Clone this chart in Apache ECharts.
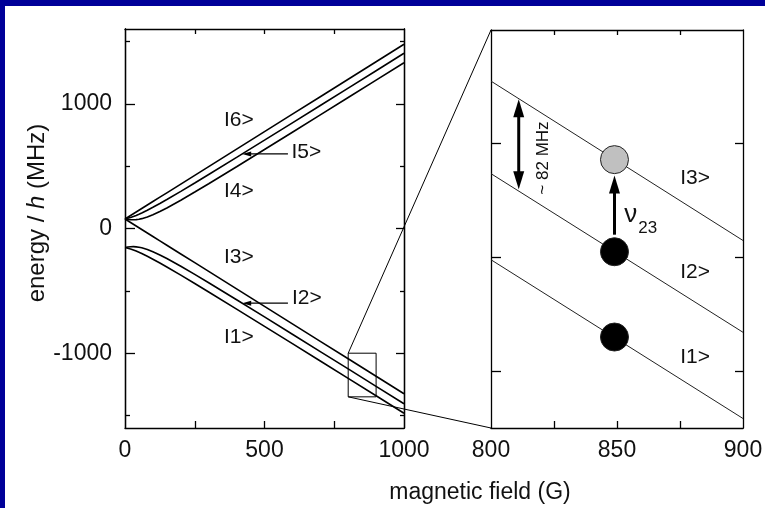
<!DOCTYPE html>
<html><head><meta charset="utf-8">
<script src="https://cdn.jsdelivr.net/npm/echarts@6/dist/echarts.min.js"></script>
<style>html,body{margin:0;padding:0;background:#fff;}#c{width:765px;height:508px;}</style>
</head><body><div id="c"></div><script>
// ---- data ----
const fieldG = [0,10,20,30,40,50,60,80,100,125,150,200,250,300,400,500,600,700,800,900,1000];
const level1 = [-152.13,-157.53,-164.27,-172.13,-180.94,-190.53,-200.77,-222.73,-246.15,-276.82,-308.56,-374.00,-441.00,-508.89,-646.16,-784.49,-923.38,-1062.61,-1202.05,-1341.65,-1481.34];
const level2 = [-152.13,-148.25,-146.07,-145.68,-147.10,-150.27,-155.04,-168.64,-186.34,-212.32,-241.03,-303.06,-368.32,-435.22,-571.46,-709.30,-847.93,-987.00,-1126.34,-1265.85,-1405.50];
const level3 = [76.07,62.06,48.04,34.03,20.02,6.00,-8.01,-36.03,-64.06,-99.09,-134.13,-204.19,-274.26,-344.32,-484.45,-624.58,-764.71,-904.84,-1044.97,-1185.10,-1325.23];
const level4 = [76.07,72.19,70.01,69.62,71.04,74.21,78.98,92.58,110.28,136.26,164.97,227.00,292.26,359.16,495.40,633.24,771.87,910.94,1050.28,1189.79,1329.44];
const level5 = [76.07,81.47,88.21,96.07,104.88,114.47,124.71,146.67,170.09,200.76,232.50,297.94,364.94,432.83,570.10,708.43,847.32,986.55,1125.99,1265.59,1405.28];
const level6 = [76.07,90.08,104.10,118.11,132.12,146.14,160.15,188.17,216.20,251.23,286.27,356.33,426.40,496.46,636.59,776.72,916.85,1056.98,1197.11,1337.24,1477.37];

const zoomField = [800,825,850,875,900];
const zoom1 = [-1202.05,-1236.94,-1271.83,-1306.74,-1341.65];
const zoom2 = [-1126.34,-1161.20,-1196.08,-1230.96,-1265.85];
const zoom3 = [-1044.97,-1080.00,-1115.04,-1150.07,-1185.10];

const zoomBoxField = [800, 900];
const zoomBoxEnergy = [-1350, -1000];

const dotField = [849, 849, 849];
const dotEnergy = [-1114, -1195, -1270];
const dotFill = ['#c0c0c0', '#000000', '#000000'];

// axes ticks / labels
const leftXTicks = [250, 500, 750];
const leftXLabels = [0, 500, 1000];
const leftYMajor = [-1000, 0, 1000];
const leftYMinor = [-1500, -500, 500, 1500];
const rightXTicks = [825, 850, 875];
const rightXLabels = [800, 850, 900];
const rightYTicks = [-1300, -1200, -1100];

// state labels
const leftLabelNames = ['I6>', 'I5>', 'I4>', 'I3>', 'I2>', 'I1>'];
const leftLabelField = [408, 650, 408, 408, 652, 408];
const leftLabelEnergy = [872, 608, 296, -232, -560, -872];
const rightLabelNames = ['I3>', 'I2>', 'I1>'];
const rightLabelField = [881, 881, 881];
const rightLabelEnergy = [-1130, -1213, -1288];

// pointer arrows (left panel): [tipField, tipEnergy, tailField]
const pointer5 = [420, 597.8, 584];
const pointer2 = [420, -599.0, 584];

// right panel arrows
const gapArrowField = 811;
const gapArrowEnergy = [-1061, -1140];
const nuArrowField = 849;
const nuArrowEnergy = [-1180, -1128];
const gapText = '~ 82 MHz';
const gapTextPos = [820.6, -1112.6];
const nuTextPos = [855.5, -1162.7];
const subTextPos = [862.2, -1174.1];

// ---- chart ----
const FONT = '"Liberation Sans", Arial, Helvetica, sans-serif';
const INK = '#111111';
const chart = echarts.init(document.getElementById('c'), null, {renderer: 'canvas'});

function axis(gridIndex, position, min, max, tickVals, tickLen, labelVals, lw, margin) {
  return {
    type: 'value', gridIndex: gridIndex, position: position, min: min, max: max,
    axisLine: {show: true, onZero: false, lineStyle: {color: '#000', width: lw}},
    axisTick: {show: true, inside: true, length: tickLen, customValues: tickVals, lineStyle: {color: '#000', width: lw}},
    axisLabel: {show: !!labelVals, customValues: labelVals || [], fontSize: 23, color: INK, fontFamily: FONT,
      margin: margin || 10, formatter: v => String(v)},
    splitLine: {show: false}, splitArea: {show: false}
  };
}

const zipPts = (xs, ys) => xs.map((x, i) => [x, ys[i]]);

const leftLevels = [level1, level2, level3, level4, level5, level6];
const series = [];
leftLevels.forEach(lv => series.push({
  type: 'line', xAxisIndex: 0, yAxisIndex: 0, data: zipPts(fieldG, lv),
  showSymbol: false, symbol: 'none', lineStyle: {color: '#000', width: 1.6}, silent: true
}));
series.push({
  type: 'line', xAxisIndex: 0, yAxisIndex: 0, symbol: 'none', silent: true,
  data: [[zoomBoxField[0], zoomBoxEnergy[1]], [zoomBoxField[1], zoomBoxEnergy[1]], [zoomBoxField[1], zoomBoxEnergy[0]], [zoomBoxField[0], zoomBoxEnergy[0]], [zoomBoxField[0], zoomBoxEnergy[1]]],
  lineStyle: {color: '#000', width: 1}
});
[zoom1, zoom2, zoom3].forEach(lv => series.push({
  type: 'line', xAxisIndex: 2, yAxisIndex: 4, data: zipPts(zoomField, lv),
  symbol: 'none', lineStyle: {color: '#222', width: 1}, silent: true
}));
series.push({
  type: 'scatter', xAxisIndex: 2, yAxisIndex: 4, symbolSize: 28, silent: true, z: 5,
  data: dotField.map((b, i) => ({value: [b, dotEnergy[i]], itemStyle: {color: dotFill[i], opacity: 1, borderColor: '#222', borderWidth: 1}}))
});
const labelStyle = {show: true, position: 'inside', formatter: '{b}', fontSize: 21, color: INK, fontFamily: FONT, opacity: 1};
series.push({
  type: 'scatter', xAxisIndex: 0, yAxisIndex: 0, symbolSize: 0, silent: true, itemStyle: {opacity: 1},
  data: leftLabelNames.map((n, i) => ({name: n, value: [leftLabelField[i], leftLabelEnergy[i]]})),
  label: labelStyle
});
series.push({
  type: 'scatter', xAxisIndex: 2, yAxisIndex: 4, symbolSize: 0, silent: true, itemStyle: {opacity: 1},
  data: rightLabelNames.map((n, i) => ({name: n, value: [rightLabelField[i], rightLabelEnergy[i]]})),
  label: labelStyle
});

chart.setOption({
  animation: false,
  backgroundColor: '#ffffff',
  grid: [
    {left: 125, top: 29, width: 279, height: 399, containLabel: false, outerBoundsMode: 'none'},
    {left: 491, top: 30, width: 252, height: 398, containLabel: false, outerBoundsMode: 'none'}
  ],
  xAxis: [
    axis(0, 'bottom', 0, 1000, leftXTicks, 7, leftXLabels, 1.3, 11),
    axis(0, 'top', 0, 1000, leftXTicks, 5, null, 1.3),
    axis(1, 'bottom', 800, 900, rightXTicks, 7, rightXLabels, 1.3, 11),
    axis(1, 'top', 800, 900, rightXTicks, 5, null, 1.3)
  ],
  yAxis: [
    axis(0, 'left', -1600, 1600, leftYMajor, 10, leftYMajor, 1.3, 13),
    axis(0, 'left', -1600, 1600, leftYMinor, 5, null, 1.3),
    axis(0, 'right', -1600, 1600, leftYMajor, 8, null, 1.3),
    axis(0, 'right', -1600, 1600, leftYMinor, 4, null, 1.3),
    axis(1, 'left', -1350, -1000, rightYTicks, 10, null, 1.3),
    axis(1, 'right', -1350, -1000, rightYTicks, 8, null, 1.3)
  ],
  series: series
});

function P0(b, e) { return chart.convertToPixel({xAxisIndex: 0, yAxisIndex: 0}, [b, e]); }
function P1(b, e) { return chart.convertToPixel({xAxisIndex: 2, yAxisIndex: 4}, [b, e]); }

function arrow(p0, p1, L, W, lw, both) {
  const dx = p1[0] - p0[0], dy = p1[1] - p0[1];
  const len = Math.hypot(dx, dy), ux = dx / len, uy = dy / len, nx = -uy, ny = ux;
  const s = both ? [p0[0] + ux * L * 0.8, p0[1] + uy * L * 0.8] : p0;
  const e = [p1[0] - ux * L * 0.8, p1[1] - uy * L * 0.8];
  const els = [{type: 'line', shape: {x1: s[0], y1: s[1], x2: e[0], y2: e[1]}, style: {stroke: '#000', lineWidth: lw}, z: 10}];
  const head = (t, vx, vy) => ({type: 'polygon', z: 10, shape: {points: [t, [t[0] - vx * L + nx * W / 2, t[1] - vy * L + ny * W / 2], [t[0] - vx * L - nx * W / 2, t[1] - vy * L - ny * W / 2]]}, style: {fill: '#000'}});
  els.push(head(p1, ux, uy));
  if (both) els.push(head(p0, -ux, -uy));
  return els;
}

const g = [];
g.push({type: 'rect', shape: {x: 0, y: 0, width: 765, height: 6}, style: {fill: '#000099'}, z: 20});
g.push({type: 'rect', shape: {x: 0, y: 0, width: 5, height: 508}, style: {fill: '#000099'}, z: 20});

// zoom connectors
const bTL = P0(zoomBoxField[0], zoomBoxEnergy[1]), bBL = P0(zoomBoxField[0], zoomBoxEnergy[0]);
const rTL = P1(zoomBoxField[0], zoomBoxEnergy[1]), rBL = P1(zoomBoxField[0], zoomBoxEnergy[0]);
g.push({type: 'line', shape: {x1: bTL[0], y1: bTL[1], x2: rTL[0], y2: rTL[1]}, style: {stroke: '#000', lineWidth: 1}});
g.push({type: 'line', shape: {x1: bBL[0], y1: bBL[1], x2: rBL[0], y2: rBL[1]}, style: {stroke: '#000', lineWidth: 1}});

// pointers in left panel
[pointer5, pointer2].forEach(p => {
  g.push(...arrow(P0(p[2], p[1]), P0(p[0], p[1]), 9, 5, 1.2, false));
});
// right panel arrows
g.push(...arrow(P1(gapArrowField, gapArrowEnergy[0]), P1(gapArrowField, gapArrowEnergy[1]), 18, 11, 3, true));
g.push(...arrow(P1(nuArrowField, nuArrowEnergy[0]), P1(nuArrowField, nuArrowEnergy[1]), 18, 11, 3, false));

const gt = P1(gapTextPos[0], gapTextPos[1]);
g.push({type: 'text', x: gt[0], y: gt[1], rotation: Math.PI / 2, z: 10,
  style: {text: gapText, fill: INK, fontSize: 17, fontFamily: FONT, align: 'center', verticalAlign: 'middle'}});
const nt = P1(nuTextPos[0], nuTextPos[1]);
g.push({type: 'text', x: nt[0], y: nt[1], z: 10,
  style: {text: 'ν', fill: INK, fontSize: 26, fontFamily: FONT, align: 'center', verticalAlign: 'middle'}});
const st = P1(subTextPos[0], subTextPos[1]);
g.push({type: 'text', x: st[0], y: st[1], z: 10,
  style: {text: '23', fill: INK, fontSize: 17, fontFamily: FONT, align: 'center', verticalAlign: 'middle'}});

// axis titles
g.push({type: 'text', x: 37, y: 213, rotation: Math.PI / 2, z: 10,
  style: {text: '{n|energy / }{i|h}{n| (MHz)}', align: 'center', verticalAlign: 'middle',
    rich: {n: {fontSize: 24, fontFamily: FONT, fill: INK}, i: {fontSize: 24, fontFamily: FONT, fontStyle: 'italic', fill: INK}}}});
g.push({type: 'text', x: 480, y: 493, z: 10,
  style: {text: 'magnetic field (G)', fill: INK, fontSize: 23, fontFamily: FONT, align: 'center', verticalAlign: 'middle'}});

chart.setOption({graphic: g});
</script></body></html>
